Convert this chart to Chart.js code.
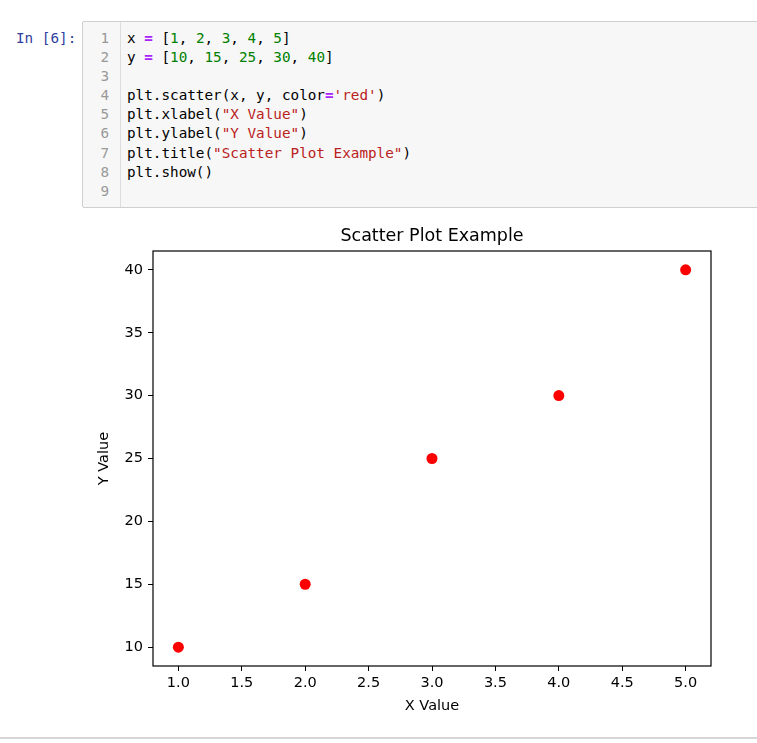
<!DOCTYPE html>
<html>
<head>
<meta charset="utf-8">
<script src="https://cdn.jsdelivr.net/npm/chart.js@4"></script>
<style>
  body { margin: 0; background: #fff; width: 757px; height: 743px; overflow: hidden; position: relative; }
  .prompt { position: absolute; left: 16px; top: 29px; font: 14.3px "DejaVu Sans Mono", monospace; color: #303F9F; line-height: 19px; }
  .cell { position: absolute; left: 82px; top: 21px; width: 700px; height: 185px; background: #f7f7f7; border: 1px solid #cfcfcf; border-radius: 2px; }
  .gutter { position: absolute; left: 0; top: 0; width: 37px; height: 185px; border-right: 1px solid #ddd; }
  .nums, .code { position: absolute; top: 7px; margin: 0; font: 14.3px "DejaVu Sans Mono", monospace; line-height: 19.1px; white-space: pre; }
  .nums { right: 11px; text-align: right; color: #999; }
  .code { left: 44px; color: #000; }
  .o { color: #AA22FF; font-weight: bold; }
  .n { color: #008000; }
  .s { color: #BA2121; }
  #wrap { position: absolute; left: 82px; top: 212px; width: 675px; height: 520px; }
  .rule { position: absolute; left: 0; top: 737px; width: 757px; height: 2px; background: #d6d6d6; }
</style>
</head>
<body>
<div class="prompt">In [6]:</div>
<div class="cell">
  <div class="gutter"><pre class="nums">1
2
3
4
5
6
7
8
9</pre></div>
  <pre class="code">x <span class="o">=</span> [<span class="n">1</span>, <span class="n">2</span>, <span class="n">3</span>, <span class="n">4</span>, <span class="n">5</span>]
y <span class="o">=</span> [<span class="n">10</span>, <span class="n">15</span>, <span class="n">25</span>, <span class="n">30</span>, <span class="n">40</span>]

plt.scatter(x, y, color<span class="o">=</span><span class="s">'red'</span>)
plt.xlabel(<span class="s">"X Value"</span>)
plt.ylabel(<span class="s">"Y Value"</span>)
plt.title(<span class="s">"Scatter Plot Example"</span>)
plt.show()
</pre>
</div>
<div id="wrap"><canvas id="myChart"></canvas></div>
<div class="rule"></div>

<script>
var xValues = [1, 2, 3, 4, 5];
var yValues = [10, 15, 25, 30, 40];
var xTicks = [1.0, 1.5, 2.0, 2.5, 3.0, 3.5, 4.0, 4.5, 5.0];
var yTicks = [10, 15, 20, 25, 30, 35, 40];

// matplotlib style 5% margins around the data
var pad = function (arr) {
  var lo = Math.min.apply(null, arr), hi = Math.max.apply(null, arr);
  var m = (hi - lo) * 0.05;
  return [lo - m, hi + m];
};
var xRange = pad(xValues);
var yRange = pad(yValues);

var points = xValues.map(function (x, i) { return {x: x, y: yValues[i]}; });

var frame = {
  id: 'frame',
  afterDraw: function (chart) {
    var a = chart.chartArea, ctx = chart.ctx;
    ctx.save();
    ctx.strokeStyle = '#000';
    ctx.lineWidth = 1.2;
    ctx.strokeRect(a.left, a.top, a.right - a.left, a.bottom - a.top);
    ctx.restore();
  }
};

var font = {family: '"DejaVu Sans", sans-serif', size: 14.5};

var ctx = document.getElementById("myChart");
var myChart = new Chart(ctx, {
  type: 'scatter',
  data: {
    datasets: [{
      data: points,
      backgroundColor: 'red',
      borderWidth: 0,
      pointRadius: 5.5,
      pointHoverRadius: 5.5
    }]
  },
  plugins: [frame],
  options: {
    responsive: true,
    maintainAspectRatio: false,
    animation: false,
    layout: { padding: {left: 0, right: 46, top: 0, bottom: 0} },
    plugins: {
      legend: { display: false },
      tooltip: { enabled: false },
      title: {
        display: true,
        text: 'Scatter Plot Example',
        fullSize: false,
        color: '#000',
        font: {family: '"DejaVu Sans", sans-serif', size: 17.5, weight: 'normal', lineHeight: 1.2},
        padding: {top: 13.5, bottom: 4.5}
      }
    },
    scales: {
      x: {
        type: 'linear',
        min: xRange[0],
        max: xRange[1],
        bounds: 'data',
        afterBuildTicks: function (s) { s.ticks = xTicks.map(function (v) { return {value: v}; }); },
        afterFit: function (s) { s.height = 66; },
        ticks: {
          color: '#000', font: font, padding: 4, maxRotation: 0, autoSkip: false,
          callback: function (v) { return v.toFixed(1); }
        },
        grid: { drawOnChartArea: false, tickLength: 5, color: '#000' },
        border: { display: false },
        title: { display: true, text: 'X Value', color: '#000', font: font, padding: {top: 0, bottom: 17} }
      },
      y: {
        type: 'linear',
        min: yRange[0],
        max: yRange[1],
        bounds: 'data',
        afterBuildTicks: function (s) { s.ticks = yTicks.map(function (v) { return {value: v}; }); },
        afterFit: function (s) { s.width = 71; },
        ticks: { color: '#000', font: font, padding: 5, autoSkip: false },
        grid: { drawOnChartArea: false, tickLength: 5, color: '#000' },
        border: { display: false },
        title: { display: true, text: 'Y Value', color: '#000', font: font, padding: {top: 14, bottom: 0} }
      }
    }
  }
});
</script>
</body>
</html>
